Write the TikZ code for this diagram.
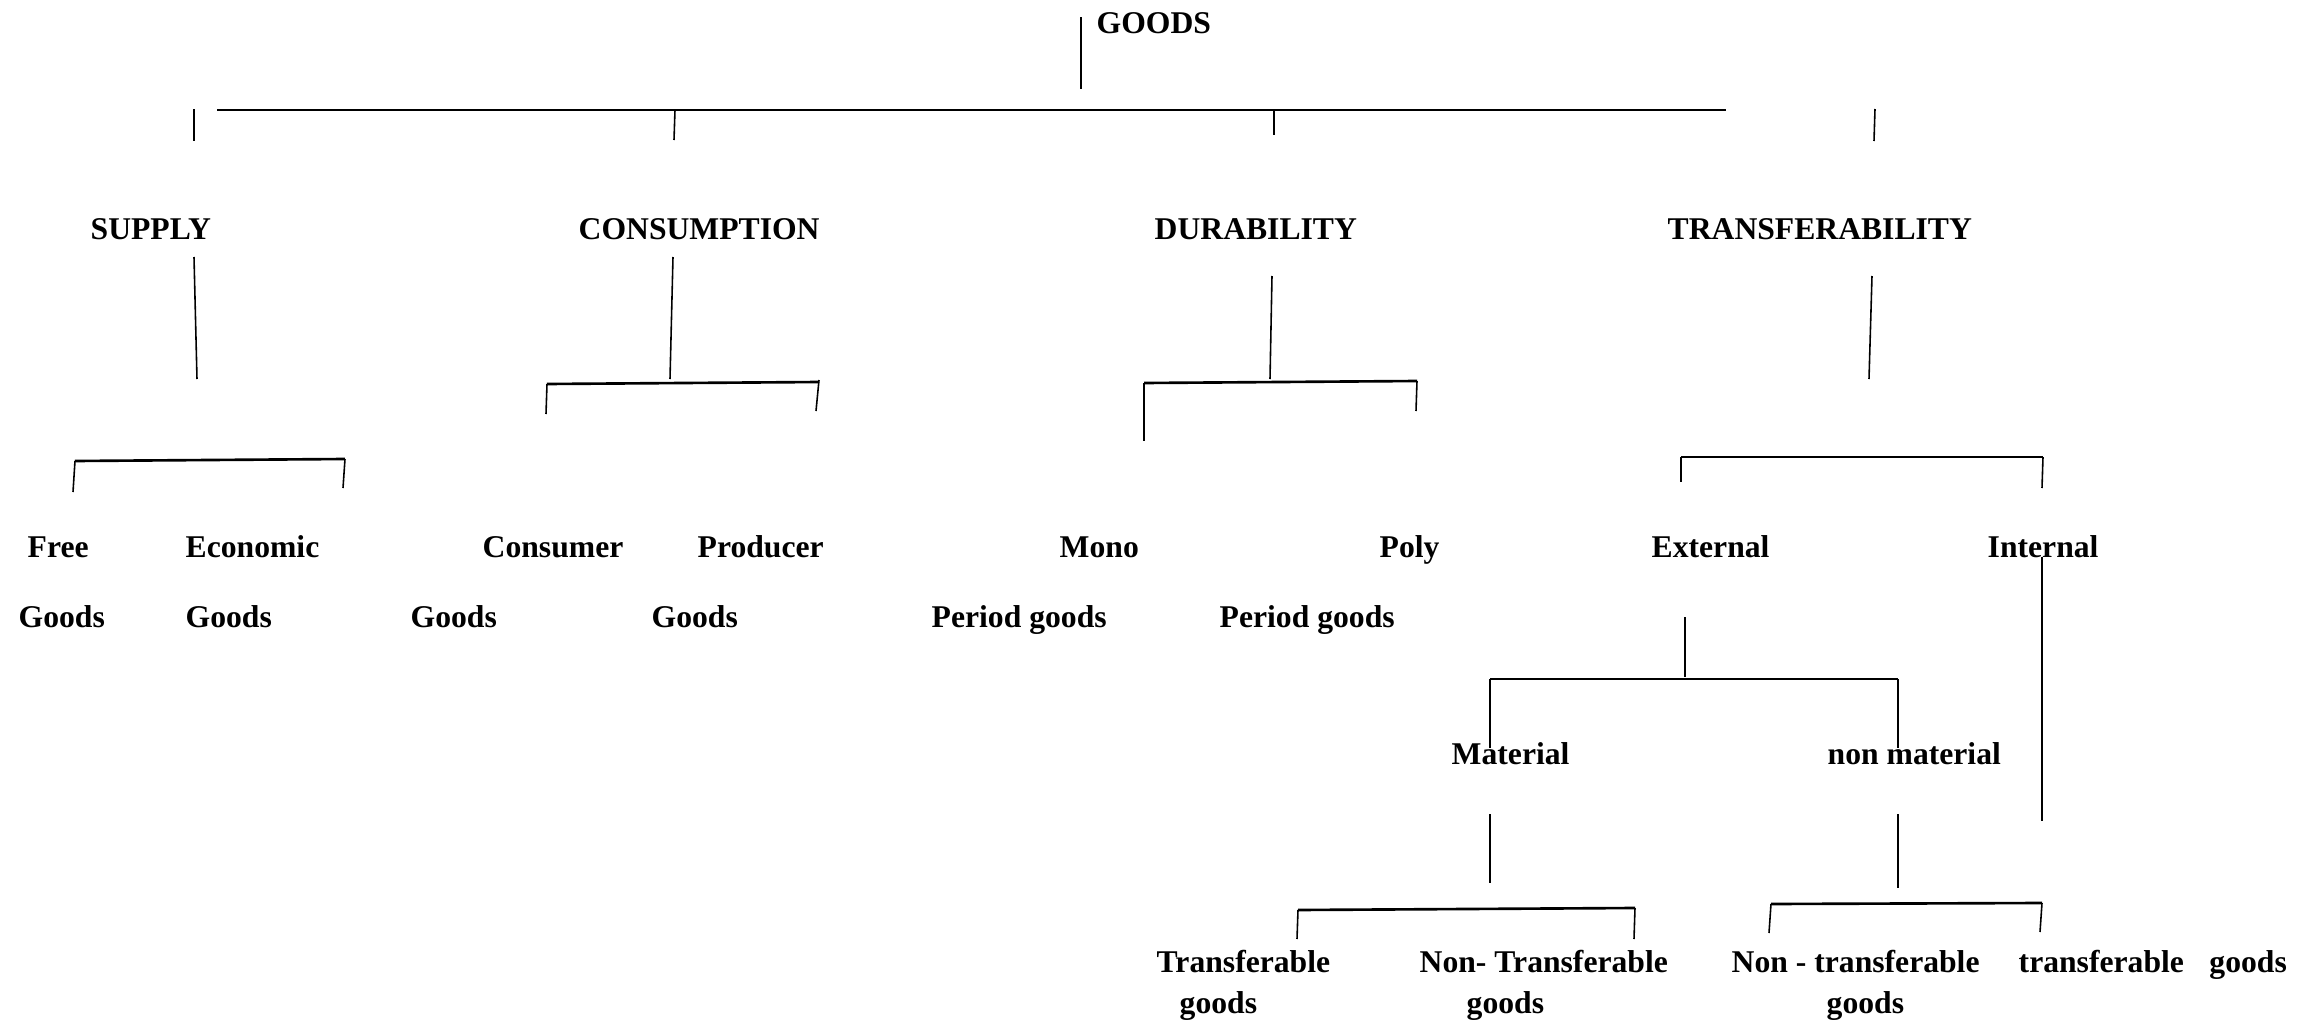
\documentclass[tikz,border=0pt]{standalone}
\usepackage{fontspec}
\setmainfont{Liberation Serif}
\usepackage{tikz}
\tikzstyle{lbl} = [anchor=base west, inner sep=0pt, font=\fontsize{9}{11}\selectfont\bfseries]
\tikzstyle{stem} = [line width=0.45pt]
\tikzstyle{bar} = [line width=0.75pt]

\begin{document}
\begin{tikzpicture}[x=0.01cm,y=-0.01cm]
	\useasboundingbox (0,0) rectangle (2320,1024);
	\node[lbl] (goods) at (1096,33) {GOODS};
	\draw[stem] (1081,17) -- (1081,89);
	\draw[bar] (217,110) -- (1726,110);
	\draw[stem] (194,109) -- (194,141);
	\draw[stem] (675,110) -- (674,140);
	\draw[stem] (1274,110) -- (1274,135);
	\draw[stem] (1875,109) -- (1874,141);
	\node[lbl] (supply) at (90,239) {SUPPLY};
	\node[lbl] (consumption) at (578,239) {CONSUMPTION};
	\node[lbl] (durability) at (1154,239) {DURABILITY};
	\node[lbl] (transfer) at (1667,239) {TRANSFERABILITY};
	\draw[stem] (194,257) -- (197,379);
	\draw[stem] (673,257) -- (670,379);
	\draw[stem] (1272,276) -- (1270,379);
	\draw[stem] (1872,276) -- (1869,379);
	\draw[bar] (75,461) -- (345,459);
	\draw[stem] (75,461) -- (73,492);
	\draw[stem] (345,459) -- (343,488);
	\draw[bar] (547,384) -- (819,382);
	\draw[stem] (547,384) -- (546,414);
	\draw[stem] (819,380) -- (816,411);
	\draw[bar] (1144,383) -- (1417,381);
	\draw[stem] (1144,383) -- (1144,441);
	\draw[stem] (1417,381) -- (1416,411);
	\draw[bar] (1681,457) -- (2043,457);
	\draw[stem] (1681,457) -- (1681,482);
	\draw[stem] (2043,457) -- (2042,488);
	\node[lbl] (free) at (27,557) {Free};
	\node[lbl] (economic) at (185,557) {Economic};
	\node[lbl] (consumer) at (482,557) {Consumer};
	\node[lbl] (producer) at (697,557) {Producer};
	\node[lbl] (mono) at (1059,557) {Mono};
	\node[lbl] (poly) at (1379,557) {Poly};
	\node[lbl] (external) at (1651,557) {External};
	\node[lbl] (internal) at (1987,557) {Internal};
	\node[lbl] (freegoods) at (18,627) {Goods};
	\node[lbl] (ecogoods) at (185,627) {Goods};
	\node[lbl] (congoods) at (410,627) {Goods};
	\node[lbl] (progoods) at (651,627) {Goods};
	\node[lbl] (monogoods) at (931,627) {Period goods};
	\node[lbl] (polygoods) at (1219,627) {Period goods};
	\draw[stem] (1685,617) -- (1685,677);
	\draw[bar] (1490,679) -- (1898,679);
	\draw[stem] (1490,679) -- (1490,748);
	\draw[stem] (1898,679) -- (1898,748);
	\draw[stem] (2042,557) -- (2042,821);
	\node[lbl] (material) at (1451,764) {Material};
	\node[lbl] (nonmaterial) at (1827,764) {non material};
	\draw[stem] (1490,814) -- (1490,883);
	\draw[stem] (1898,814) -- (1898,888);
	\draw[bar] (1298,910) -- (1635,908);
	\draw[stem] (1298,910) -- (1297,939);
	\draw[stem] (1635,908) -- (1634,939);
	\draw[bar] (1771,904) -- (2042,903);
	\draw[stem] (1771,904) -- (1769,933);
	\draw[stem] (2042,903) -- (2040,932);
	\node[lbl] (mattr) at (1156,972) {Transferable};
	\node[lbl] (matnontr) at (1419,972) {Non- Transferable};
	\node[lbl] (nonmatnontr) at (1731,972) {Non - transferable};
	\node[lbl] (nonmattr) at (2018,972) {transferable\hspace{5pt} goods};
	\node[lbl] (mattrgoods) at (1179,1013) {goods};
	\node[lbl] (matnontrgoods) at (1466,1013) {goods};
	\node[lbl] (nonmatnontrgoods) at (1826,1013) {goods};
\end{tikzpicture}
\end{document}
